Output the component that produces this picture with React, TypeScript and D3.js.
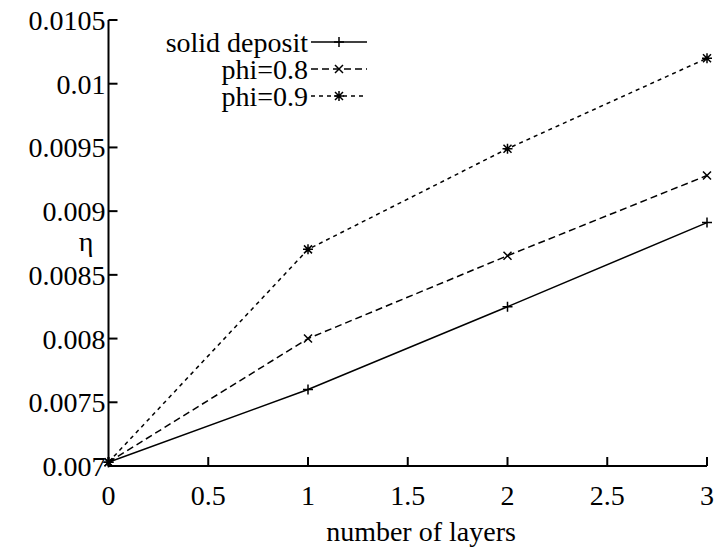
import React from "react";
import * as d3 from "d3";

const layers = [0, 1, 2, 3];
const solidDeposit = [0.00703, 0.0076, 0.00825, 0.00891];
const phi08 = [0.00703, 0.008, 0.00865, 0.00928];
const phi09 = [0.00703, 0.0087, 0.00949, 0.0102];
const xTicks = [0, 0.5, 1, 1.5, 2, 2.5, 3];
const yTicks = [0.007, 0.0075, 0.008, 0.0085, 0.009, 0.0095, 0.01, 0.0105];
const yTickLabels = ["0.007", "0.0075", "0.008", "0.0085", "0.009", "0.0095", "0.01", "0.0105"];
const seriesNames = ["solid deposit", "phi=0.8", "phi=0.9"];

const W = 717;
const H = 548;
const FONT = "'Liberation Serif', 'DejaVu Serif', serif";

function Marker({ type, x, y }: { type: string; x: number; y: number }) {
  const s = 5;
  const d = 4;
  if (type === "plus") {
    return (
      <path d={`M${x - s},${y}H${x + s}M${x},${y - s}V${y + s}`} stroke="#000" strokeWidth={1.5} fill="none" />
    );
  }
  if (type === "cross") {
    return (
      <path d={`M${x - d},${y - d}L${x + d},${y + d}M${x - d},${y + d}L${x + d},${y - d}`} stroke="#000" strokeWidth={1.5} fill="none" />
    );
  }
  return (
    <path
      d={`M${x - s},${y}H${x + s}M${x},${y - s}V${y + s}M${x - d},${y - d}L${x + d},${y + d}M${x - d},${y + d}L${x + d},${y - d}`}
      stroke="#000"
      strokeWidth={1.5}
      fill="none"
    />
  );
}

export default function App() {
  const x = d3.scaleLinear().domain([0, 3]).range([108.5, 707]);
  const y = d3.scaleLinear().domain([0.007, 0.0105]).range([466, 20]);
  const line = d3
    .line<number>()
    .x((_, i) => x(layers[i]))
    .y((v) => y(v));

  const series = [
    { name: seriesNames[0], data: solidDeposit, dash: undefined as string | undefined, marker: "plus" },
    { name: seriesNames[1], data: phi08, dash: "7,4", marker: "cross" },
    { name: seriesNames[2], data: phi09, dash: "4,4", marker: "star" },
  ];

  const fs = 28;

  return (
    <svg width={W} height={H} style={{ position: "absolute", left: 0, top: 0, background: "#fff" }}>
      <rect width={W} height={H} fill="#fff" />
      {/* axes */}
      <line x1={x(0)} x2={x(0)} y1={y(0.0105)} y2={y(0.007)} stroke="#000" strokeWidth={2} />
      <line x1={x(0)} x2={x(3)} y1={y(0.007)} y2={y(0.007)} stroke="#000" strokeWidth={2} />
      {yTicks.map((t, i) => (
        <g key={"y" + i}>
          <line x1={x(0)} x2={x(0) + 9} y1={y(t)} y2={y(t)} stroke="#000" strokeWidth={2} />
          <text x={x(0) - 3} y={y(t) + 10} textAnchor="end" fontFamily={FONT} fontSize={fs}>
            {yTickLabels[i]}
          </text>
        </g>
      ))}
      {xTicks.map((t, i) => (
        <g key={"x" + i}>
          <line x1={x(t)} x2={x(t)} y1={y(0.007)} y2={y(0.007) - 9} stroke="#000" strokeWidth={2} />
          <text x={x(t)} y={505} textAnchor="middle" fontFamily={FONT} fontSize={fs}>
            {String(t)}
          </text>
        </g>
      ))}
      <text x={421} y={541} textAnchor="middle" fontFamily={FONT} fontSize={fs}>
        number of layers
      </text>
      <text x={86} y={251} textAnchor="middle" fontFamily={FONT} fontSize={fs}>
        η
      </text>
      {/* series */}
      {series.map((s, si) => (
        <g key={"s" + si}>
          <path d={line(s.data) || ""} fill="none" stroke="#000" strokeWidth={1.5} strokeDasharray={s.dash} />
          {s.data.map((v, i) => (
            <Marker key={i} type={s.marker} x={x(layers[i])} y={y(v)} />
          ))}
        </g>
      ))}
      {/* legend */}
      {series.map((s, si) => {
        const ly = 42 + si * 27;
        return (
          <g key={"l" + si}>
            <text x={308} y={ly + 10} textAnchor="end" fontFamily={FONT} fontSize={fs}>
              {s.name}
            </text>
            <line x1={311} x2={367} y1={ly} y2={ly} stroke="#000" strokeWidth={1.5} strokeDasharray={s.dash} />
            <Marker type={s.marker} x={339} y={ly} />
          </g>
        );
      })}
    </svg>
  );
}
